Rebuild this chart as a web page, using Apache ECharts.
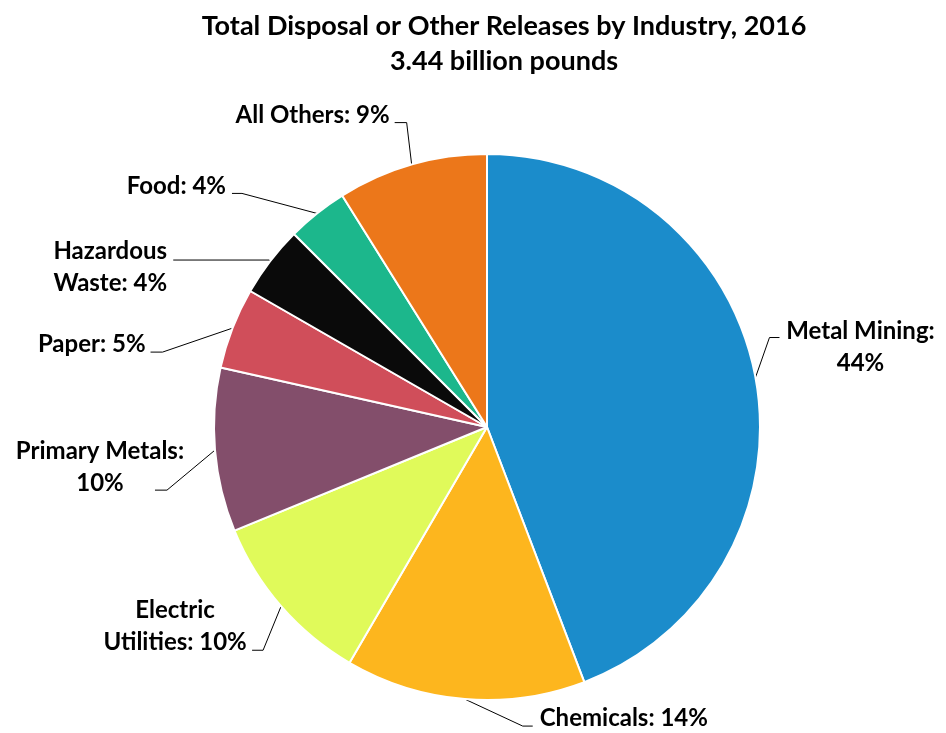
<!DOCTYPE html>
<html>
<head>
<meta charset="utf-8">
<script src="https://cdn.jsdelivr.net/npm/echarts@6/dist/echarts.min.js"></script>
<style>
html,body{margin:0;padding:0;background:#fff;}
#chart{width:946px;height:733px;}
</style>
</head>
<body>
<div id="chart"></div>
<script>
// ---- data ----
const categories = ['Metal Mining', 'Chemicals', 'Electric Utilities', 'Primary Metals', 'Paper', 'Hazardous Waste', 'Food', 'All Others'];
const labelTexts = ['Metal Mining:\n44%', 'Chemicals: 14%', 'Electric\nUtilities: 10%', 'Primary Metals:\n10%', 'Paper: 5%', 'Hazardous\nWaste: 4%', 'Food: 4%', 'All Others: 9%'];
const shares = [44.2, 14.2, 10.4, 9.7, 4.8, 4.2, 3.6, 8.9];
const colors = ['#1B8CCB', '#FDB61E', '#E0FA5A', '#834E6B', '#D04E5A', '#0A0A0A', '#1CB78C', '#EC771A'];
const titleText = 'Total Disposal or Other Releases by Industry, 2016\n3.44 billion pounds';

// ---- label placement (offsets from the slice edge point) ----
const labelPlace = [
  {ex: 14, ey: -40, h: 10, tx: 81, ty: 10, align: 'center'},
  {ex: 58, ey: 27, h: 10, tx: 7, ty: -8, align: 'left'},
  {ex: -18, ey: 44, h: -11, tx: -77, ty: -24, align: 'center'},
  {ex: -48, ey: 40, h: -12, tx: -55, ty: -23, align: 'center'},
  {ex: -70, ey: 24, h: -12, tx: -5, ty: -8, align: 'right'},
  {ex: -1, ey: -1, h: -96, tx: -63, ty: 7, align: 'center'},
  {ex: -75, ey: -20, h: -10, tx: -6, ty: -7, align: 'right'},
  {ex: -5, ey: -42, h: -12, tx: -5, ty: -7, align: 'right'}
];

const chart = echarts.init(document.getElementById('chart'));
const font = 'Lato, "Open Sans", sans-serif';
chart.setOption({
  animation: false,
  title: {
    text: titleText,
    left: 499,
    top: 4,
    textAlign: 'center',
    textStyle: {fontFamily: font, fontWeight: 'bold', fontSize: 27, lineHeight: 35, color: '#000'}
  },
  series: [{
    type: 'pie',
    center: [487, 427],
    radius: 273,
    startAngle: 90,
    clockwise: true,
    avoidLabelOverlap: false,
    itemStyle: {borderColor: '#fff', borderWidth: 2},
    label: {
      show: true,
      position: 'outside',
      formatter: p => labelTexts[p.dataIndex],
      fontFamily: font,
      fontWeight: 'bold',
      fontSize: 24,
      lineHeight: 32,
      color: '#000'
    },
    labelLine: {show: true, lineStyle: {color: '#000', width: 1}},
    labelLayout: function (params) {
      const i = params.dataIndex;
      const L = labelPlace[i];
      const e = params.labelLinePoints[0];
      const elbow = [e[0] + L.ex, e[1] + L.ey];
      const end = [elbow[0] + L.h, elbow[1]];
      return {
        x: end[0] + L.tx,
        y: end[1] + L.ty,
        align: L.align,
        verticalAlign: 'middle',
        labelLinePoints: [e, elbow, end]
      };
    },
    data: categories.map((c, i) => ({name: c, value: shares[i], itemStyle: {color: colors[i]}}))
  }]
});
</script>
</body>
</html>
